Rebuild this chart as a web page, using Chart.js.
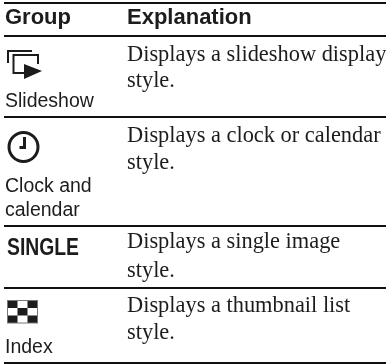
<!DOCTYPE html>
<html>
<head>
<meta charset="utf-8">
<style>
  html, body { margin: 0; padding: 0; background: #fff; }
  #wrap { width: 386px; height: 364px; }
  canvas { filter: blur(0.3px); }
</style>
<script src="https://cdn.jsdelivr.net/npm/chart.js@4"></script>
</head>
<body>
<div id="wrap"><canvas id="table-chart"></canvas></div>
<script>
const headers = ["Group", "Explanation"];
const groupLabels = [["Slideshow"], ["Clock and", "calendar"], [], ["Index"]];
const explanations = [
    ["Displays a slideshow display", "style."],
    ["Displays a clock or calendar", "style."],
    ["Displays a single image", "style."],
    ["Displays a thumbnail list", "style."]
];
const badgeText = "SINGLE";

// layout of the table, in page pixels (the scales below run 1:1)
const ruleRows = [3, 36, 117, 226, 288, 363];
const headerBaseline = 24;
const bodyBaselines = [[61, 87], [142, 169], [248, 277], [312, 339]];
const labelBaselines = [[107], [192, 216], [], [353]];
const groupX = 5;
const explanationX = 127;
const ink = "#1c1c1c";

function drawSlideshowIcon(ctx, x, y){
    ctx.lineWidth = 2;
    ctx.beginPath();
    ctx.moveTo(x(8), y(63));
    ctx.lineTo(x(8), y(51));
    ctx.lineTo(x(32), y(51));
    ctx.moveTo(x(25), y(73));
    ctx.lineTo(x(13.5), y(73));
    ctx.lineTo(x(13.5), y(55));
    ctx.lineTo(x(38), y(55));
    ctx.lineTo(x(38), y(64));
    ctx.stroke();
    ctx.beginPath();
    ctx.moveTo(x(24), y(64));
    ctx.lineTo(x(42), y(71));
    ctx.lineTo(x(24), y(79));
    ctx.closePath();
    ctx.fill();
}

function drawClockIcon(ctx, x, y){
    ctx.lineWidth = 3;
    ctx.beginPath();
    ctx.arc(x(23.5), y(147), 14.5, 0, Math.PI * 2);
    ctx.stroke();
    ctx.beginPath();
    ctx.moveTo(x(24.5), y(137));
    ctx.lineTo(x(24.5), y(149));
    ctx.moveTo(x(19.5), y(147.5));
    ctx.lineTo(x(26), y(147.5));
    ctx.stroke();
}

function drawIndexIcon(ctx, x, y){
    const left = x(7.5), top = y(300.5), cellW = 10, cellH = 7.5;
    ctx.fillRect(left, top, cellW * 3, cellH * 3);
    ctx.fillStyle = "#fff";
    ctx.fillRect(left + cellW, top, cellW, cellH);
    ctx.fillRect(left, top + cellH, cellW, cellH);
    ctx.fillRect(left + cellW * 2, top + cellH, cellW, cellH);
    ctx.fillRect(left + cellW, top + cellH * 2, cellW, cellH);
    ctx.fillStyle = ink;
    ctx.strokeStyle = "#777";
    ctx.lineWidth = 1;
    ctx.strokeRect(left, top, cellW * 3, cellH * 3);
    ctx.strokeStyle = ink;
}

const tablePlugin = {
    id: "tableText",
    afterDraw(chart){
        const { ctx } = chart;
        const x = v => chart.scales.x.getPixelForValue(v);
        const y = v => chart.scales.y.getPixelForValue(v);

        ctx.save();
        ctx.fillStyle = ink;
        ctx.strokeStyle = ink;
        ctx.textBaseline = "alphabetic";

        ctx.font = "bold 22px 'Liberation Sans'";
        ctx.fillText(headers[0], x(groupX), y(headerBaseline));
        ctx.fillText(headers[1], x(explanationX), y(headerBaseline));

        ctx.font = "22.4px 'Liberation Serif'";
        explanations.forEach((lines, row) => {
            lines.forEach((line, i) => ctx.fillText(line, x(explanationX), y(bodyBaselines[row][i])));
        });

        ctx.font = "19.5px 'Liberation Sans'";
        groupLabels.forEach((lines, row) => {
            lines.forEach((line, i) => ctx.fillText(line, x(groupX), y(labelBaselines[row][i])));
        });

        ctx.font = "bold 23.5px 'Liberation Sans Narrow', 'Liberation Sans'";
        ctx.fillText(badgeText, x(7), y(255), 72);

        drawSlideshowIcon(ctx, x, y);
        drawClockIcon(ctx, x, y);
        drawIndexIcon(ctx, x, y);
        ctx.restore();
    }
};

new Chart(document.getElementById("table-chart"), {
    type: "scatter",
    data: { datasets: [] },
    plugins: [tablePlugin],
    options: {
        responsive: true,
        maintainAspectRatio: false,
        animation: false,
        layout: { padding: { left: 4 } },
        plugins: { legend: { display: false }, tooltip: { enabled: false } },
        scales: {
            x: { type: "linear", min: 4, max: 386, display: false },
            y: {
                type: "linear",
                min: 0,
                max: 364,
                reverse: true,
                afterBuildTicks: axis => { axis.ticks = ruleRows.map(value => ({ value })); },
                ticks: { display: false },
                border: { display: false },
                grid: { color: "#111", lineWidth: 2, drawTicks: false }
            }
        }
    }
});
</script>
</body>
</html>
